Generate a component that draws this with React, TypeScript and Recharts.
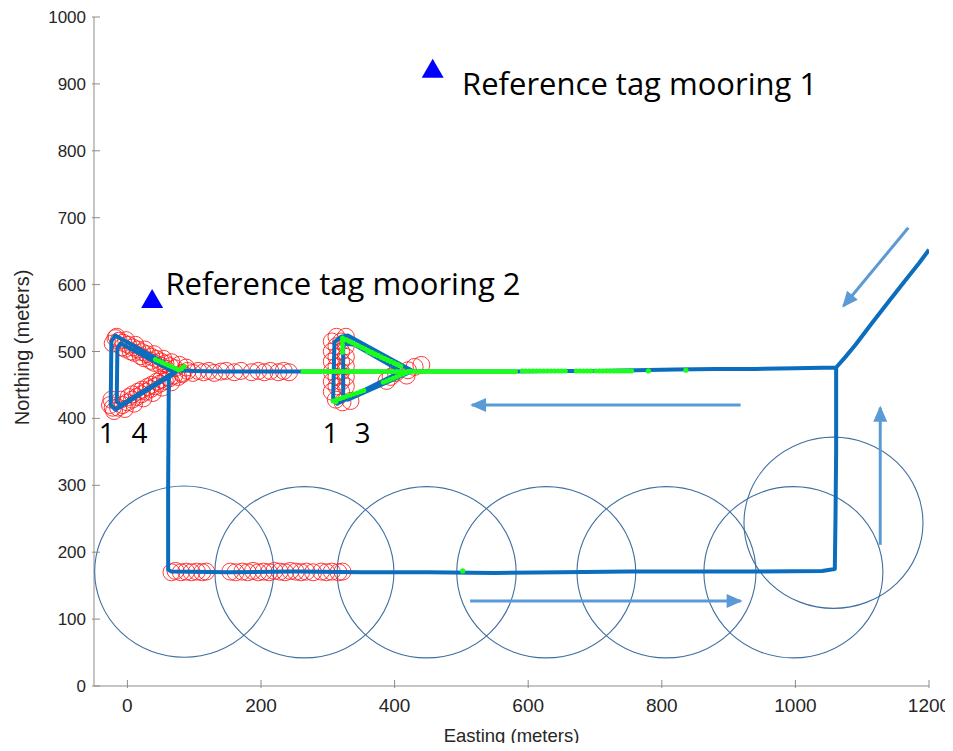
import { Scatter, ScatterChart, XAxis, YAxis } from "recharts";

// axes
const EAST_DOMAIN = [-50, 1200];
const NORTH_DOMAIN = [0, 1000];
const EAST_TICKS = [0, 200, 400, 600, 800, 1000, 1200];
const NORTH_TICKS = [0, 100, 200, 300, 400, 500, 600, 700, 800, 900, 1000];

// vehicle track (easting, northing)
const trackPath: [number, number][] = [
  [1200, 652], [1185, 632], [1165, 607], [1140, 575], [1115, 543], [1090, 510], [1075, 492], [1061, 476],
  [1000, 475], [940, 474], [880, 474], [820, 473], [760, 472], [700, 471], [640, 471], [580, 470],
  [520, 470], [460, 470], [427, 471],
  [330, 524], [320, 522], [310, 514], [308, 430], [314, 422], [410, 470],
  [340, 510], [325, 512], [323, 505], [323, 430], [330, 428], [427, 471],
  [380, 470], [320, 470], [260, 470], [200, 470], [140, 470], [100, 471], [75, 472],
  [-18, 524], [-24, 515], [-25, 420], [-18, 413], [72, 468],
  [-10, 512], [-15, 505], [-16, 425], [-10, 420], [68, 468],
  [62, 460], [61, 300], [61, 174], [66, 171], [150, 170], [250, 171], [350, 170], [450, 170],
  [550, 169], [650, 170], [750, 171], [850, 171], [950, 171], [1040, 172], [1059, 175],
  [1060, 250], [1061, 350], [1061, 476],
];

// detections with poor quality (red circles)
const redTriangle1: [number, number][] = [
  [-18, 520], [-13, 516], [-6, 513], [1, 510], [8, 506], [15, 503], [22, 499], [29, 496], [36, 492],
  [43, 489], [50, 485], [57, 482], [64, 478], [71, 475], [-8, 506], [5, 500], [20, 493], [35, 486],
  [50, 479], [78, 480], [88, 476],
  [-22, 512], [-16, 522], [-2, 517], [12, 510], [26, 503], [40, 496], [54, 489], [66, 484],
  [-3, 504], [10, 498], [25, 490], [40, 483], [58, 474],
  [-26, 420], [-20, 411], [-14, 416], [-7, 420], [0, 424], [7, 428], [14, 432], [21, 436], [28, 440],
  [35, 444], [42, 448], [49, 452], [56, 456], [63, 460], [70, 464], [8, 436], [22, 443], [36, 450], [50, 458],
  [-24, 428], [-22, 416], [-4, 414], [10, 422], [24, 430], [38, 438], [52, 446], [66, 454], [76, 462],
  [-10, 428], [2, 432], [16, 440], [30, 447], [44, 455], [60, 462], [82, 466],
];
const redLine470: [number, number][] = [
  [82, 468], [90, 471], [98, 468], [106, 471], [114, 469], [122, 471], [130, 468], [140, 470], [148, 471],
  [160, 469], [170, 471], [186, 469], [196, 471], [205, 469], [214, 471], [226, 469], [234, 471], [242, 469],
];
const redTriangle2: [number, number][] = [
  [306, 440], [306, 455], [306, 470], [306, 485], [306, 500], [306, 515],
  [313, 448], [313, 462], [313, 478], [313, 492], [313, 508], [313, 522],
  [320, 440], [320, 455], [320, 470], [320, 485], [320, 500], [320, 515],
  [327, 448], [327, 462], [327, 478], [327, 492], [327, 508], [327, 522],
  [312, 428], [322, 424], [334, 426],
  [388, 456], [394, 462], [402, 468], [420, 472], [430, 477], [440, 480], [418, 464],
];
const redLine170: [number, number][] = [
  [66, 170], [72, 172], [80, 170], [88, 171], [96, 170], [104, 171], [112, 170], [118, 171],
  [154, 171], [162, 170], [172, 171], [180, 170], [188, 172], [196, 170], [204, 171], [212, 170],
  [220, 172], [228, 171], [236, 170], [244, 172], [252, 171], [260, 170], [268, 171], [278, 170],
  [290, 171], [298, 170], [306, 171], [316, 170], [322, 171],
];

// good detections (green)
const greenRuns: [number, number][][] = [
  [[263, 470], [582, 470]],
  [[591, 471], [661, 471]],
  [[672, 471], [695, 471]],
  [[701, 471], [755, 471]],
  [[322, 520], [409, 478]],
  [[360, 500], [410, 478]],
  [[308, 426], [358, 443]],
  [[383, 454], [424, 471]],
  [[322, 515], [322, 495]],
  [[42, 488], [78, 472], [86, 478]],
];
const greenDots: [number, number][] = [[780, 471], [836, 472], [502, 172], [312, 425]];

// receiver coverage circles: centre and radius (m)
const coverageCentres: [number, number][] = [
  [85, 171], [265, 170], [448, 170], [627, 170], [807, 170], [997, 170], [1057, 244],
];
const COVER_R_E = 134;
const COVER_R_N = 128;

// reference tags
const moorings: [number, number][] = [[457, 921], [37, 577]];

// arrows: start, end
const arrows: [number, number][][] = [
  [[1169, 685], [1072, 568]],
  [[918, 420], [516, 420]],
  [[513, 127], [918, 127]],
  [[1127, 211], [1127, 416]],
];

// annotations
const notes: { x: number; y: number; text: string; size: number; anchor: string }[] = [
  { x: 501, y: 883, text: "Reference tag mooring 1", size: 31, anchor: "start" },
  { x: 57, y: 584, text: "Reference tag mooring 2", size: 31, anchor: "start" },
  { x: -31, y: 363, text: "1", size: 28, anchor: "middle" },
  { x: 18, y: 363, text: "4", size: 28, anchor: "middle" },
  { x: 304, y: 363, text: "1", size: 28, anchor: "middle" },
  { x: 352, y: 363, text: "3", size: 28, anchor: "middle" },
];

const W = 953;
const H = 751;
const M = { top: 17, right: 24, bottom: 0, left: 0 };
const Y_AXIS_W = 94;
const X_AXIS_H = 65;
const PX_E = (W - M.right - Y_AXIS_W) / (EAST_DOMAIN[1] - EAST_DOMAIN[0]);
const PX_N = (H - M.top - X_AXIS_H) / (NORTH_DOMAIN[1] - NORTH_DOMAIN[0]);

const AXIS = "#8c8c8c";
const TEXT = "#262626";
const TRACK = "#0b6dbd";
const ARROW = "#5b9bd5";
const GREEN = "#1aff1a";
const TICK_FONT = "'Liberation Sans', Arial, sans-serif";
const NOTE_FONT = "'Open Sans', 'Noto Sans', sans-serif";

const pts = (arr: [number, number][]) => arr.map(([x, y]) => ({ x, y }));

const Nothing = () => <g />;

const RedRing = (p: any) => (
  <circle cx={p.cx} cy={p.cy} r={8.5} fill="none" stroke="#ff1a1a" strokeOpacity={0.85} strokeWidth={1} />
);

const GreenDot = (p: any) => <circle cx={p.cx} cy={p.cy} r={2.6} fill={GREEN} />;

const Coverage = (p: any) => (
  <ellipse cx={p.cx} cy={p.cy} rx={COVER_R_E * PX_E} ry={COVER_R_N * PX_N} fill="none" stroke="#3f6f9f" strokeWidth={1.1} />
);

const Mooring = (p: any) => (
  <polygon
    points={`${p.cx},${p.cy - 11} ${p.cx - 11},${p.cy + 8} ${p.cx + 11},${p.cy + 8}`}
    fill="#0000ff"
  />
);

const ArrowHead = (p: any) => {
  if (!p.payload.tip) return <g />;
  return (
    <polygon
      points="2,0 -14,-7 -14,7"
      fill={ARROW}
      transform={`translate(${p.cx},${p.cy}) rotate(${p.payload.angle})`}
    />
  );
};

const Note = (p: any) => (
  <text
    x={p.cx}
    y={p.cy}
    textAnchor={p.payload.anchor}
    fontSize={p.payload.size}
    fontFamily={NOTE_FONT}
    fill="#000"
  >
    {p.payload.text}
  </text>
);

const BottomTick = (p: any) => (
  <g>
    <line x1={p.x} x2={p.x} y1={p.y} y2={p.y - 8} stroke={AXIS} />
    <text x={p.x} y={p.y + 24} textAnchor="middle" fontSize={19} fontFamily={TICK_FONT} fill={TEXT}>
      {p.payload.value}
    </text>
  </g>
);
const TopTick = (p: any) => <line x1={p.x} x2={p.x} y1={p.y} y2={p.y + 8} stroke={AXIS} />;
const LeftTick = (p: any) => (
  <g>
    <line x1={p.x} x2={p.x + 8} y1={p.y} y2={p.y} stroke={AXIS} />
    <text x={p.x - 6} y={p.y + 6} textAnchor="end" fontSize={17} fontFamily={TICK_FONT} fill={TEXT}>
      {p.payload.value}
    </text>
  </g>
);
const RightTick = (p: any) => <line x1={p.x} x2={p.x - 8} y1={p.y} y2={p.y} stroke={AXIS} />;

const App = () => {
  const arrowData = arrows.map(([[x1, y1], [x2, y2]]) => {
    const angle = (Math.atan2(-(y2 - y1) * PX_N, (x2 - x1) * PX_E) * 180) / Math.PI;
    return [
      { x: x1, y: y1, tip: false, angle },
      { x: x2, y: y2, tip: true, angle },
    ];
  });

  return (
    <div style={{ margin: "-8px 0 -8px -8px", width: W, height: H }}>
      <ScatterChart width={W} height={H} margin={M}>
        <XAxis
          type="number"
          dataKey="x"
          domain={EAST_DOMAIN}
          ticks={EAST_TICKS}
          interval={0}
          allowDataOverflow
          height={X_AXIS_H}
          tickSize={0}
          tickLine={false}
          axisLine={{ stroke: AXIS }}
          tick={BottomTick}
          label={(l: any) => (
            <text
              x={l.viewBox.x + l.viewBox.width / 2}
              y={l.viewBox.y + 56}
              textAnchor="middle"
              fontSize={18.5}
              fontFamily={TICK_FONT}
              fill={TEXT}
            >
              Easting (meters)
            </text>
          )}
        />
        <XAxis
          xAxisId="top"
          orientation="top"
          type="number"
          dataKey="x"
          domain={EAST_DOMAIN}
          ticks={EAST_TICKS}
          interval={0}
          allowDataOverflow
          height={0}
          tickSize={0}
          tickLine={false}
          axisLine={{ stroke: AXIS }}
          tick={TopTick}
        />
        <YAxis
          type="number"
          dataKey="y"
          domain={NORTH_DOMAIN}
          ticks={NORTH_TICKS}
          interval={0}
          allowDataOverflow
          width={Y_AXIS_W}
          tickSize={0}
          tickLine={false}
          axisLine={{ stroke: AXIS }}
          tick={LeftTick}
          label={(l: any) => {
            const cx = 29;
            const cy = l.viewBox.y + l.viewBox.height / 2 - 4;
            return (
              <text
                x={cx}
                y={cy}
                transform={`rotate(-90, ${cx}, ${cy})`}
                textAnchor="middle"
                fontSize={20}
                fontFamily={TICK_FONT}
                fill={TEXT}
              >
                Northing (meters)
              </text>
            );
          }}
        />
        <YAxis
          yAxisId="right"
          orientation="right"
          type="number"
          dataKey="y"
          domain={NORTH_DOMAIN}
          ticks={NORTH_TICKS}
          interval={0}
          allowDataOverflow
          width={0}
          tickSize={0}
          tickLine={false}
          axisLine={{ stroke: AXIS }}
          tick={RightTick}
        />

        <Scatter data={pts(coverageCentres)} shape={Coverage} isAnimationActive={false} />
        <Scatter data={pts(redTriangle1)} shape={RedRing} isAnimationActive={false} />
        <Scatter data={pts(redLine470)} shape={RedRing} isAnimationActive={false} />
        <Scatter data={pts(redTriangle2)} shape={RedRing} isAnimationActive={false} />
        <Scatter data={pts(redLine170)} shape={RedRing} isAnimationActive={false} />
        <Scatter
          data={pts(trackPath)}
          line={{ stroke: TRACK, strokeWidth: 4, strokeLinejoin: "round" }}
          lineJointType="linear"
          shape={Nothing}
          isAnimationActive={false}
        />
        {greenRuns.map((run, i) => (
          <Scatter
            key={`g${i}`}
            data={pts(run)}
            line={{ stroke: GREEN, strokeWidth: 5, strokeLinecap: "round", strokeDasharray: "0 3.6" }}
            lineJointType="linear"
            shape={Nothing}
            isAnimationActive={false}
          />
        ))}
        <Scatter data={pts(greenDots)} shape={GreenDot} isAnimationActive={false} />
        <Scatter data={pts(moorings)} shape={Mooring} isAnimationActive={false} />
        {arrowData.map((a, i) => (
          <Scatter
            key={`a${i}`}
            data={a}
            line={{ stroke: ARROW, strokeWidth: 3 }}
            lineJointType="linear"
            shape={ArrowHead}
            isAnimationActive={false}
          />
        ))}
        <Scatter data={notes} shape={Note} isAnimationActive={false} />
      </ScatterChart>
    </div>
  );
};

export default App;
